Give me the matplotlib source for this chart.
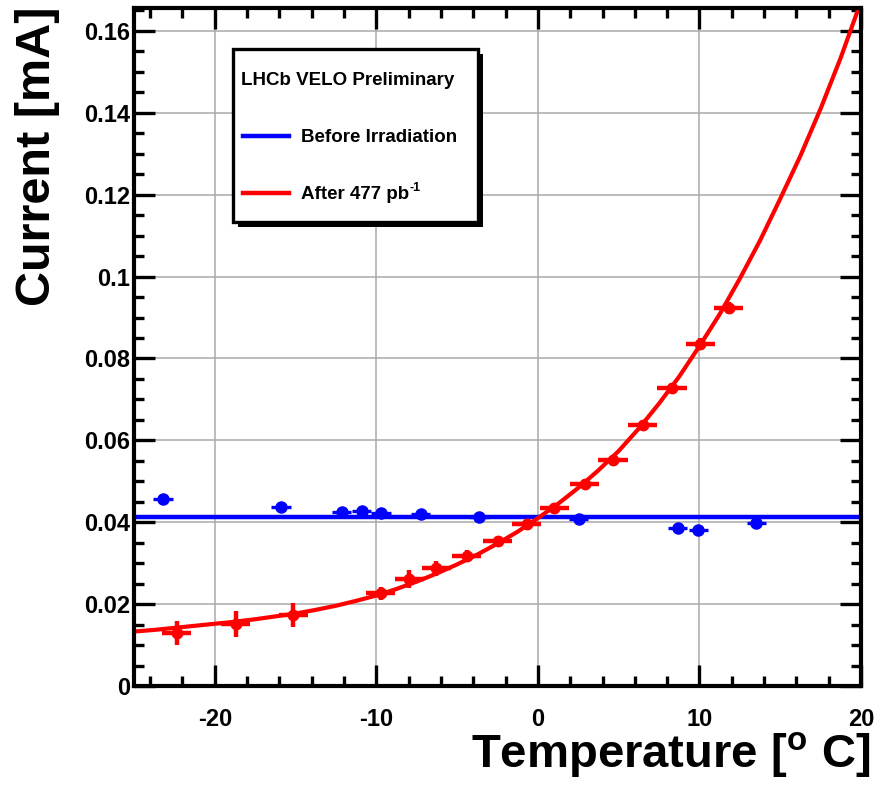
"""
Leakage current vs temperature for one VELO sensor,
before irradiation and after 477 pb^-1, with the fitted
temperature dependence of the irradiated sensor.
"""
import numpy as np
import matplotlib
matplotlib.use('Agg')
import matplotlib.pyplot as plt
from matplotlib.patches import Rectangle
from matplotlib.lines import Line2D
from matplotlib.ticker import MultipleLocator

# before irradiation (blue)
temp_before = [-23.2, -15.9, -12.15, -10.9, -9.7, -7.25, -3.65, 2.53, 8.66, 9.94, 13.52]
current_before = [0.0456, 0.0438, 0.0425, 0.0427, 0.0423, 0.0419, 0.0412, 0.0408, 0.0385, 0.0381, 0.0398]
temp_err_before = [0.6] * len(temp_before)
level_before = 0.0414  # flat fit of the unirradiated data

# after 477 pb^-1 (red)
temp_after = [-22.36, -18.7, -15.15, -9.73, -7.97, -6.3, -4.4, -2.5, -0.7,
              1.0, 2.9, 4.65, 6.5, 8.3, 10.05, 11.8]
current_after = [0.0129, 0.0151, 0.0173, 0.0226, 0.0261, 0.0287, 0.0318, 0.0355, 0.0395,
                 0.0434, 0.0493, 0.0553, 0.0637, 0.0728, 0.0836, 0.0923]
temp_err_after = [0.9] * len(temp_after)
current_err_after = [0.0029, 0.0032, 0.0030, 0.0017, 0.0022, 0.0018, 0.0015, 0.0012, 0.0012,
                     0.0012, 0.0012, 0.0012, 0.0012, 0.0012, 0.0015, 0.0015]

# fitted curve for the irradiated sensor, sampled every 1.25 degC
fit_temp = [-25, -23.75, -22.5, -21.25, -20, -18.75, -17.5, -16.25, -15, -13.75,
            -12.5, -11.25, -10, -8.75, -7.5, -6.25, -5, -3.75, -2.5, -1.25,
            0, 1.25, 2.5, 3.75, 5, 6.25, 7.5, 8.75, 10, 11.25,
            12.5, 13.75, 15, 16.25, 17.5, 18.75, 20]
fit_current = [0.0133, 0.0137, 0.0142, 0.0147, 0.0152, 0.0157, 0.0163, 0.0170, 0.0177, 0.0186,
               0.0196, 0.0208, 0.0221, 0.0237, 0.0255, 0.0275, 0.0297, 0.0321, 0.0348, 0.0377,
               0.0410, 0.0445, 0.0484, 0.0527, 0.0574, 0.0629, 0.0690, 0.0756, 0.0830, 0.0908,
               0.0995, 0.1088, 0.1190, 0.1295, 0.1410, 0.1535, 0.1672]

W, H = 884, 792
DPI = 100

plt.rcParams['font.family'] = ['Liberation Sans', 'DejaVu Sans']
plt.rcParams['font.weight'] = 'bold'
plt.rcParams['axes.unicode_minus'] = False
plt.rcParams['mathtext.fontset'] = 'custom'
plt.rcParams['mathtext.rm'] = 'Liberation Sans:bold'
plt.rcParams['mathtext.bf'] = 'Liberation Sans:bold'
plt.rcParams['mathtext.it'] = 'Liberation Sans:bold'


def px(x, y):
    """pixel position (from top-left) to figure fraction"""
    return x / W, 1 - y / H


fig = plt.figure(figsize=(W / DPI, H / DPI), dpi=DPI)
fig.patch.set_facecolor('white')
left, top = px(134, 8)
right, bottom = px(861, 686)
ax = fig.add_axes([left, bottom, right - left, top - bottom])

ax.set_xlim(-25, 20)
ax.set_ylim(0, 0.1656)

ax.grid(True, color='#aaaaaa', linewidth=1.1, zorder=0)
ax.set_axisbelow(True)

ax.axhline(level_before, color='#0000ff', linewidth=3.2, zorder=2)
ax.plot(fit_temp, fit_current, color='#ff0000', linewidth=3.0, zorder=3,
        solid_joinstyle='round')

ax.errorbar(temp_before, current_before, xerr=temp_err_before, fmt='o',
            color='#0000ff', markersize=8, elinewidth=2.4, capsize=0, zorder=4)
ax.errorbar(temp_after, current_after, xerr=temp_err_after, yerr=current_err_after,
            fmt='o', color='#ff0000', markersize=7.5, elinewidth=3.2, capsize=0, zorder=5)

# ROOT-style frame: thick box, ticks inside on all four sides
for side in ax.spines.values():
    side.set_linewidth(3)
    side.set_zorder(6)
ax.xaxis.set_major_locator(MultipleLocator(10))
ax.xaxis.set_minor_locator(MultipleLocator(2))
ax.yaxis.set_major_locator(MultipleLocator(0.02))
ax.yaxis.set_minor_locator(MultipleLocator(0.005))
ax.tick_params(which='both', direction='in', top=True, right=True, width=2.4,
               labelsize=17, zorder=6)
ax.tick_params(which='major', length=15)
ax.tick_params(which='minor', length=7.5)
ax.tick_params(axis='x', which='major', pad=16)
ax.tick_params(axis='y', which='major', pad=3)
ax.yaxis.set_major_formatter(plt.FuncFormatter(lambda v, p: '0' if v == 0 else ('%.2f' % v).rstrip('0')))
for lab in ax.get_xticklabels() + ax.get_yticklabels():
    lab.set_fontweight('bold')

# axis titles, right/top aligned as in ROOT
fig.text(*px(38, 7), 'Current [mA]', rotation=90, ha='center', va='top',
         fontsize=35, fontweight='bold')
fig.text(*px(870, 767), r'Temperature [$^{\rm o}$ C]', ha='right', va='baseline',
         fontsize=34, fontweight='bold')

# legend box with shadow
x0, y0 = px(233, 222)
x1, y1 = px(478, 49)
sx, sy = 5 / W, 5 / H
fig.add_artist(Rectangle((x0 + sx, y0 - sy), x1 - x0, y1 - y0, transform=fig.transFigure,
                         facecolor='black', edgecolor='black', linewidth=0, zorder=9))
fig.add_artist(Rectangle((x0, y0), x1 - x0, y1 - y0, transform=fig.transFigure,
                         facecolor='white', edgecolor='black', linewidth=2.4, zorder=10))

fig.text(*px(241, 85), 'LHCb VELO Preliminary', fontsize=13.5, fontweight='bold',
         va='baseline', zorder=11)
renderer = fig.canvas.get_renderer()
for ly, colour, label, sup in [(136, '#0000ff', 'Before Irradiation', None),
                               (193, '#ff0000', 'After 477 pb', '-1')]:
    xa, ya = px(243, ly)
    xb, _ = px(289, ly)
    fig.add_artist(Line2D([xa, xb], [ya, ya], transform=fig.transFigure,
                          color=colour, linewidth=3.2, zorder=11))
    t = fig.text(*px(301, ly + 6), label, fontsize=13.5, fontweight='bold',
                 va='baseline', zorder=11)
    if sup:
        # small raised exponent right after the unit
        end = t.get_window_extent(renderer).x1
        fig.text(end / W + 0.5 / W, px(0, ly - 2)[1], sup, fontsize=9, fontweight='bold',
                 va='baseline', zorder=11)

fig.savefig('out.png', dpi=DPI, facecolor='white')
